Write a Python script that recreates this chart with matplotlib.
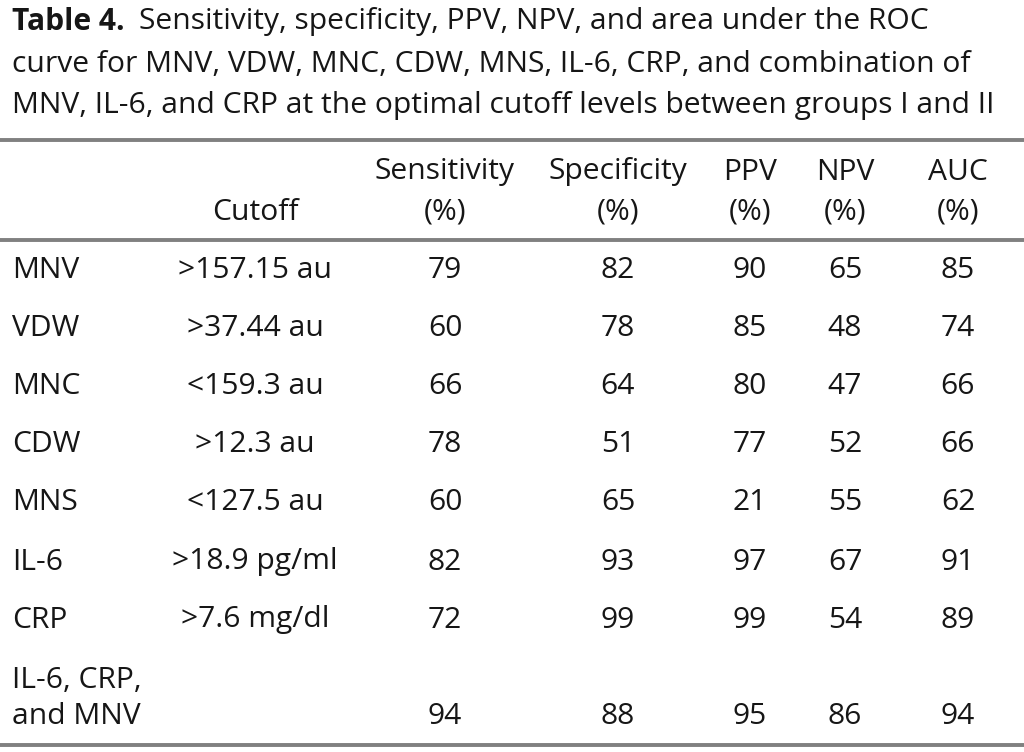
import matplotlib
matplotlib.use("Agg")
import matplotlib.pyplot as plt

title_bold = "Table 4."
title_lines = [
    "Sensitivity, specificity, PPV, NPV, and area under the ROC",
    "curve for MNV, VDW, MNC, CDW, MNS, IL-6, CRP, and combination of",
    "MNV, IL-6, and CRP at the optimal cutoff levels between groups I and II",
]
col_headers = ["Cutoff", "Sensitivity\n(%)", "Specificity\n(%)", "PPV\n(%)", "NPV\n(%)", "AUC\n(%)"]
row_labels = ["MNV", "VDW", "MNC", "CDW", "MNS", "IL-6", "CRP", "IL-6, CRP,\nand MNV"]
cutoffs = [">157.15 au", ">37.44 au", "<159.3 au", ">12.3 au", "<127.5 au", ">18.9 pg/ml", ">7.6 mg/dl", ""]
sensitivity = [79, 60, 66, 78, 60, 82, 72, 94]
specificity = [82, 78, 64, 51, 65, 93, 99, 88]
ppv = [90, 85, 80, 77, 21, 97, 99, 95]
npv = [65, 48, 47, 52, 55, 67, 54, 86]
auc = [85, 74, 66, 66, 62, 91, 89, 94]

plt.rcParams['font.family'] = ['Open Sans', 'DejaVu Sans']
fig = plt.figure(figsize=(10.24, 7.52), dpi=100)
ax = fig.add_axes([0, 0, 1, 1])
ax.set_xlim(0, 1024)
ax.set_ylim(752, 0)
ax.axis('off')

tc = '#161616'
fs_title = 21.6
fs = 21.6

renderer = fig.canvas.get_renderer()

# Title
line_y = [22, 64, 106]
t = ax.text(12, line_y[0], title_bold, fontsize=fs_title, fontweight='bold', va='center', ha='left', color=tc)
bb = t.get_window_extent(renderer)
x_after = bb.x1 + 14
ax.text(x_after, line_y[0], title_lines[0], fontsize=fs_title, va='center', ha='left', color=tc)
ax.text(12, line_y[1], title_lines[1], fontsize=fs_title, va='center', ha='left', color=tc)
ax.text(12, line_y[2], title_lines[2], fontsize=fs_title, va='center', ha='left', color=tc)

# rules
lc = '#808080'
for y in [140, 240, 745]:
    ax.plot([0, 1024], [y, y], color=lc, lw=2.8, solid_capstyle='butt')

# headers
col_x = [255, 445, 618, 750, 845, 958]
for x, h in zip(col_x, col_headers):
    parts = h.split("\n")
    if len(parts) == 2:
        ax.text(x, 172, parts[0], fontsize=fs, ha='center', va='center', color=tc)
        ax.text(x, 212, parts[1], fontsize=fs, ha='center', va='center', color=tc)
    else:
        ax.text(x, 212, parts[0], fontsize=fs, ha='center', va='center', color=tc)

# rows
row_y = [271, 329, 387, 445, 503, 562, 620, 717]
cols = [sensitivity, specificity, ppv, npv, auc]
for i, y in enumerate(row_y):
    lab = row_labels[i]
    if "\n" in lab:
        a, b = lab.split("\n")
        ax.text(12, 680, a, fontsize=fs, ha='left', va='center', color=tc)
        ax.text(12, y, b, fontsize=fs, ha='left', va='center', color=tc)
    else:
        ax.text(12, y, lab, fontsize=fs, ha='left', va='center', color=tc)
    if cutoffs[i]:
        ax.text(col_x[0], y, cutoffs[i], fontsize=fs, ha='center', va='center', color=tc)
    for j, c in enumerate(cols):
        ax.text(col_x[j + 1], y, str(c[i]), fontsize=fs, ha='center', va='center', color=tc)

fig.savefig("out.png", dpi=100)
